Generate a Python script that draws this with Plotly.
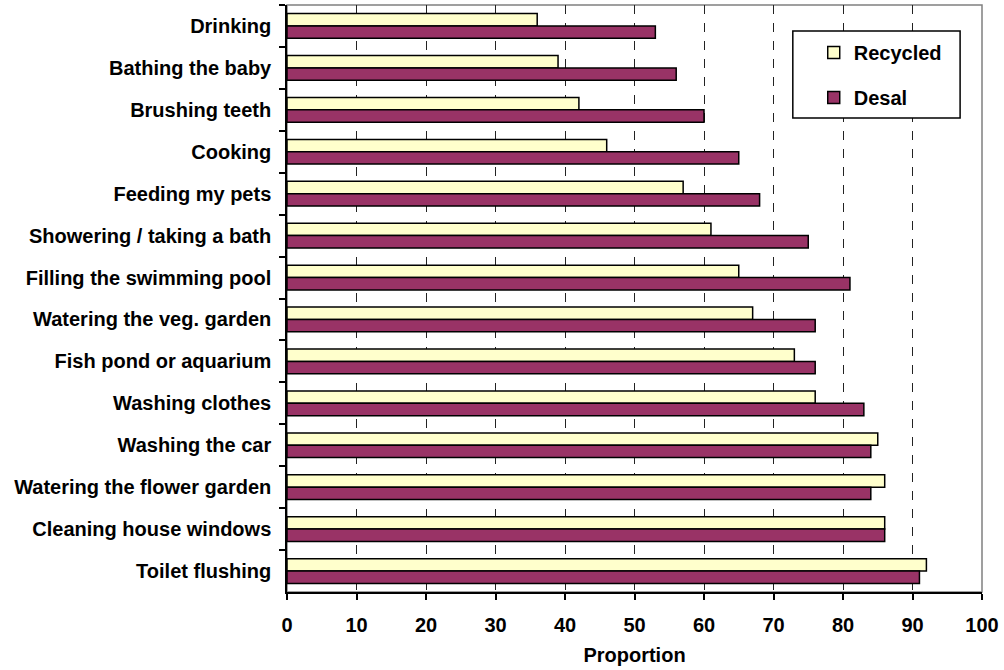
import plotly.graph_objects as go

categories = [
    "Drinking", "Bathing the baby", "Brushing teeth", "Cooking", "Feeding my pets",
    "Showering / taking a bath", "Filling the swimming pool", "Watering the veg. garden",
    "Fish pond or aquarium", "Washing clothes", "Washing the car",
    "Watering the flower garden", "Cleaning house windows", "Toilet flushing",
]
recycled = [36, 39, 42, 46, 57, 61, 65, 67, 73, 76, 85, 86, 86, 92]
desal = [53, 56, 60, 65, 68, 75, 81, 76, 76, 83, 84, 84, 86, 91]
x_ticks = [0, 10, 20, 30, 40, 50, 60, 70, 80, 90, 100]

FONT = "Liberation Sans, Arial, sans-serif"
FS = 20

fig = go.Figure()
fig.add_trace(go.Bar(
    name="Recycled", y=categories, x=recycled, orientation="h",
    marker=dict(color="#FFFFCC", line=dict(color="black", width=1.5)),
    legendgroup="a",
))
fig.add_trace(go.Bar(
    name="Desal", y=categories, x=desal, orientation="h",
    marker=dict(color="#993366", line=dict(color="black", width=1.5)),
    legendgroup="b",
))

L, R, T, B = 287, 19, 5, 78
W, H = 1004, 670
pw, ph = W - L - R, H - T - B

def px2paper_x(px):
    return (px - L) / pw

def px2paper_y(py):
    return (H - B - py) / ph

fig.update_layout(
    width=W, height=H,
    margin=dict(l=L, r=R, t=T, b=B, pad=0),
    paper_bgcolor="white", plot_bgcolor="white",
    font=dict(family=FONT, size=FS, color="black", weight="bold"),
    barmode="group", bargap=0.41, bargroupgap=0,
    showlegend=True,
    legend=dict(
        x=px2paper_x(816), y=px2paper_y(33), xanchor="left", yanchor="top",
        bgcolor="rgba(0,0,0,0)", borderwidth=0,
        tracegroupgap=16, traceorder="grouped",
        font=dict(family=FONT, size=FS, color="black", weight="bold"),
    ),
    shapes=[
        dict(type="rect", xref="paper", yref="paper", x0=0, x1=1, y0=0, y1=1,
             line=dict(color="#808080", width=1.5), layer="below"),
        dict(type="rect", xref="paper", yref="paper",
             x0=px2paper_x(795), x1=px2paper_x(963), y0=px2paper_y(118), y1=px2paper_y(31),
             line=dict(color="black", width=1.5), fillcolor="white", layer="above"),
    ],
)

fig.update_xaxes(
    range=[0, 100], tickvals=x_ticks, ticktext=[str(v) for v in x_ticks],
    showgrid=True, gridcolor="#222222", gridwidth=1, griddash="dash",
    showline=True, linecolor="black", linewidth=1.5,
    ticks="outside", ticklen=6, tickcolor="black", tickwidth=1.5,
    ticklabelstandoff=8,
    title=dict(text="Proportion", font=dict(family=FONT, size=FS, weight="bold"), standoff=13),
    zeroline=False,
)
fig.update_yaxes(
    categoryorder="array", categoryarray=categories, autorange="reversed",
    showline=True, linecolor="black", linewidth=1.5,
    ticks="outside", tickson="boundaries", ticklen=6, tickcolor="black", tickwidth=1.5,
    ticklabelstandoff=10, showgrid=False,
)

fig.write_html("out.html")
